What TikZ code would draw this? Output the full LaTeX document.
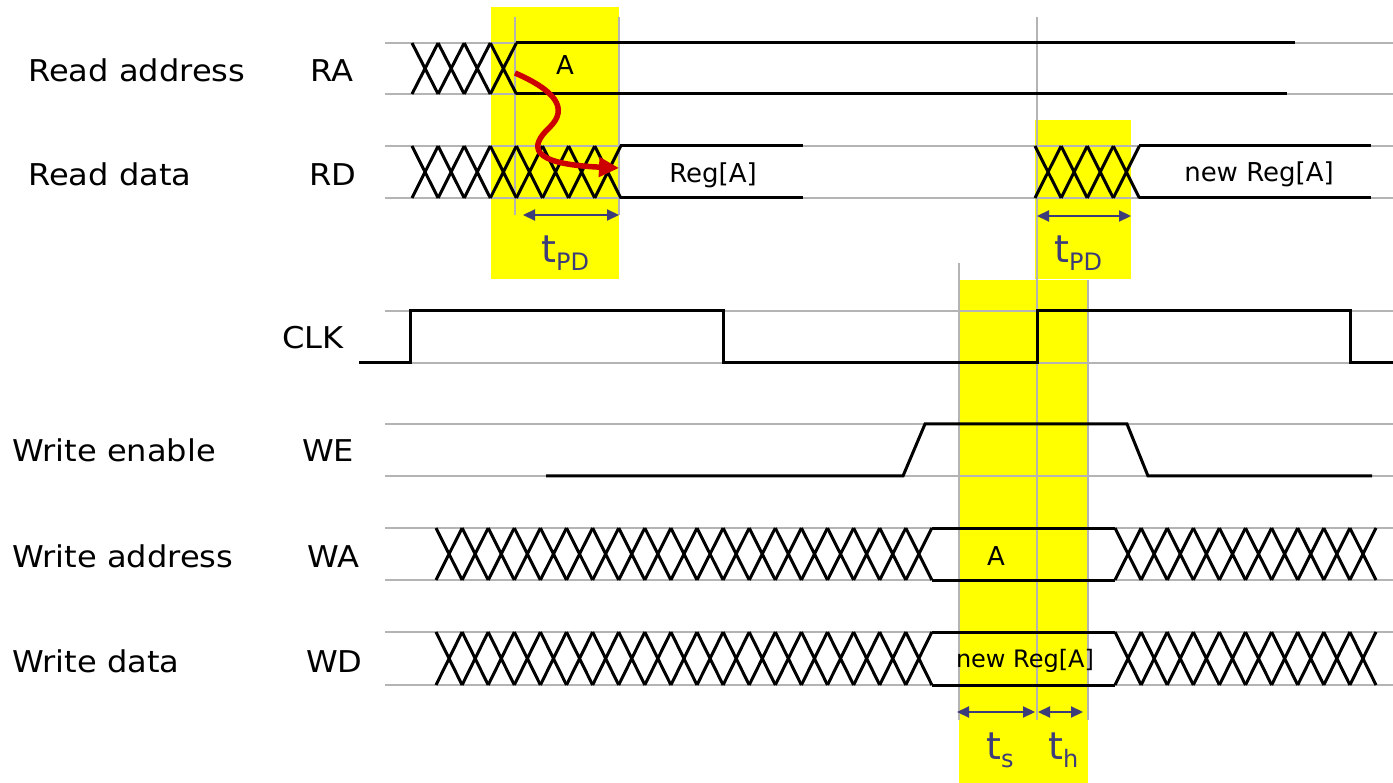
\documentclass[tikz,border=0pt]{standalone}
\usepackage{fontspec}
\setmainfont{DejaVu Sans}
\newfontfamily\lblfont{DejaVu Sans}[FakeStretch=1.07]
\usetikzlibrary{arrows.meta}

\definecolor{hilite}{RGB}{255,255,0}
\definecolor{guidegray}{RGB}{180,180,180}
\definecolor{dimblue}{RGB}{60,60,122}
\definecolor{pathred}{RGB}{204,0,0}

\tikzset{
  guide/.style={guidegray,line width=2.5pt},
  vguide/.style={guidegray,line width=2pt},
  sig/.style={black,line width=3pt},
  lbl/.style={font=\lblfont\fontsize{30}{36}\selectfont,anchor=base west,inner sep=0pt},
  val/.style={font=\fontsize{26}{30}\selectfont,anchor=base,inner sep=0pt},
  tlbl/.style={font=\fontsize{38}{42}\selectfont,text=dimblue,anchor=base west,inner sep=0pt},
  dimarrow/.style={dimblue,line width=2.2pt,{Triangle[length=12pt,width=11pt]}-{Triangle[length=12pt,width=11pt]}},
  redpath/.style={pathred,line width=5.5pt,-{Triangle[length=20pt,width=19pt]}}
}

% #1 start x, #2 number of crossings, #3 top y, #4 bottom y
\newcommand\xrun[4]{%
  \foreach \i in {1,...,#2}
    \draw[sig] ({#1+(\i-1)*26.1},#3) -- ({#1+\i*26.1},#4)
               ({#1+(\i-1)*26.1},#4) -- ({#1+\i*26.1},#3);}
\newcommand\tsub[1]{t\raisebox{-8pt}{\fontsize{24}{26}\selectfont #1}}

\begin{document}
\begin{tikzpicture}[x=1pt,y=-1pt]
\useasboundingbox (0,0) rectangle (1393,783);
\fill[hilite] (491,7) rectangle (619,279);
\fill[hilite] (1035,120) rectangle (1131,279);
\fill[hilite] (959,280) rectangle (1088,783);
\foreach \y in {43,94,146,198,311,363,424,476,528,580,632,685}
  \draw[guide] (385,\y) -- (1393,\y);
\draw[vguide] (515,17) -- (515,215) (619,17) -- (619,215) (1037,17) -- (1037,720)
  (959,263) -- (959,720) (1088,280) -- (1088,720);

\xrun{412}{4}{43}{94}
\draw[sig] (516,43) -- (1295,43) (516,94) -- (1287,94);
\xrun{412}{8}{146}{198}
\draw[sig] (620,146) -- (803,146) (620,198) -- (803,198);
\xrun{1035}{4}{146}{198}
\draw[sig] (1139,146) -- (1371,146) (1139,198) -- (1371,198);
\draw[sig] (359,363) -- (410,363) -- (410,311) -- (723,311) -- (723,363) -- (1037,363)
  -- (1037,311) -- (1350,311) -- (1350,363) -- (1393,363);
\draw[sig] (546,476) -- (903,476) -- (925,424) -- (1127,424) -- (1148,476) -- (1372,476);
\xrun{436}{19}{528}{580}
\draw[sig] (932,528) -- (1115,528) (932,580) -- (1115,580);
\xrun{1115}{10}{528}{580}
\xrun{436}{19}{632}{685}
\draw[sig] (932,632) -- (1115,632) (932,685) -- (1115,685);
\xrun{1115}{10}{632}{685}

\node[lbl] (readaddr) at (28,82) {Read address};
\node[lbl] (lbRA) at (310,82) {RA};
\node[lbl] (readdata) at (28,186) {Read data};
\node[lbl] (lbRD) at (309,186) {RD};
\node[lbl] (lbCLK) at (282,349) {CLK};
\node[lbl] (writeen) at (12,462) {Write enable};
\node[lbl] (lbWE) at (302,462) {WE};
\node[lbl] (writeaddr) at (12,567) {Write address};
\node[lbl] (lbWA) at (307,567) {WA};
\node[lbl] (writedata) at (12,672) {Write data};
\node[lbl] (lbWD) at (306,672) {WD};

\node[val] (valA) at (565,75) {A};
\node[val] (valReg) at (713,183) {Reg[A]};
\node[val] (valNew) at (1259,182) {new Reg[A]};
\node[val] (wrA) at (996,565) {A};
\node[val,font=\fontsize{24}{28}\selectfont] (wrNew) at (1025,667) {new Reg[A]};

\path (515,73) coordinate (rA) (619,168) coordinate (rB);
\draw[redpath] (rA) .. controls (554,90) and (570,108) .. (549,128)
  .. controls (530,146) and (528,164) .. (rB);

\path (523,215) coordinate (pdAl) (619,215) coordinate (pdAr)
  (1037,216) coordinate (pdBl) (1131,216) coordinate (pdBr)
  (957,712) coordinate (setl) (1035,712) coordinate (setr)
  (1038,712) coordinate (holdl) (1083,712) coordinate (holdr);
\draw[dimarrow] (pdAl) -- (pdAr);
\draw[dimarrow] (pdBl) -- (pdBr);
\draw[dimarrow] (setl) -- (setr);
\draw[dimarrow] (holdl) -- (holdr);
\node[tlbl] (tpdA) at (541,263) {\tsub{PD}};
\node[tlbl] (tpdB) at (1054,263) {\tsub{PD}};
\node[tlbl] (tset) at (986,759) {\tsub{s}};
\node[tlbl] (thold) at (1048,759) {\tsub{h}};
\end{tikzpicture}
\end{document}
